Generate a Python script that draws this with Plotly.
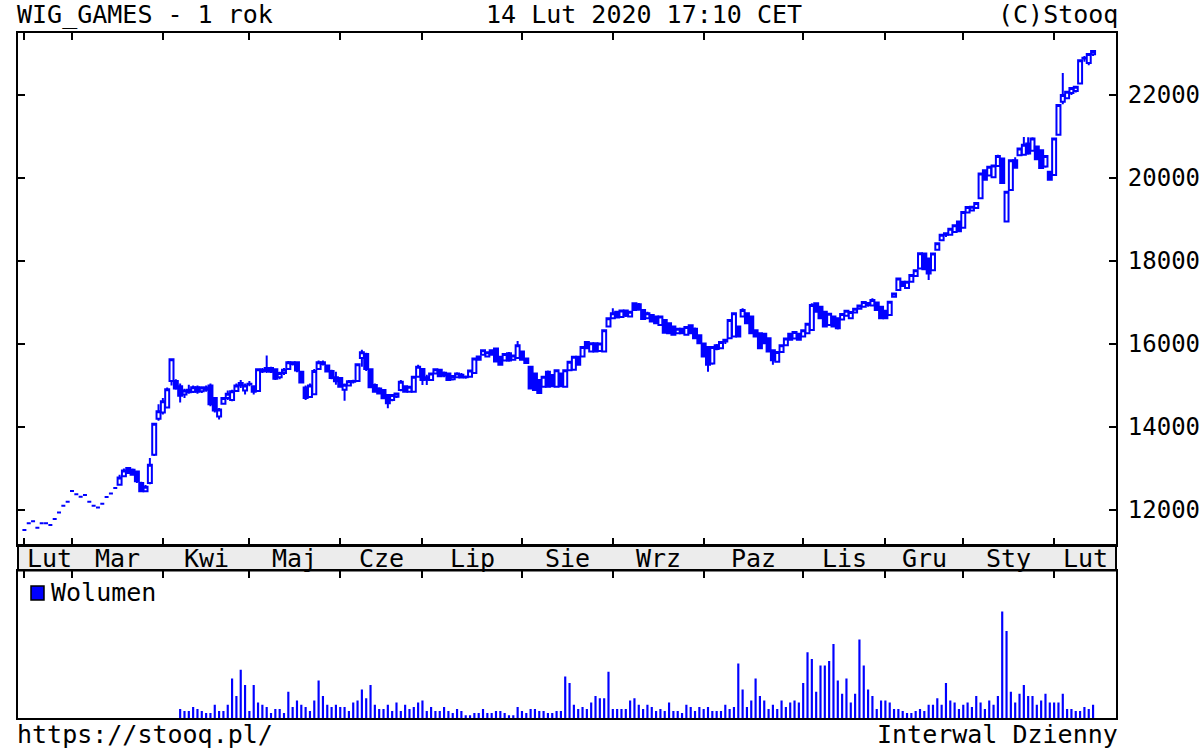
import plotly.graph_objects as go
import pandas as pd

# ---------------- data ----------------
holidays = ["2019-04-19", "2019-04-22", "2019-05-01", "2019-05-03", "2019-06-20",
            "2019-08-15", "2019-11-01", "2019-11-11", "2019-12-24", "2019-12-25",
            "2019-12-26", "2019-12-31", "2020-01-01", "2020-01-06"]
days = [d for d in pd.bdate_range("2019-02-14", "2020-02-14")
        if d.strftime("%Y-%m-%d") not in holidays]

month_names = ["Sty", "Lut", "Mar", "Kwi", "Maj", "Cze", "Lip", "Sie", "Wrz", "Paz", "Lis", "Gru"]

opens = [
    11520, 11680, 11730, 11570, 11680, 11680, 11640, 11780, 11940, 12100,
    12200, 12460, 12380, 12320, 12360, 12200, 12100, 12060, 12150, 12310,
    12400, 12530, 12610, 12810, 13010, 12970, 12930, 12650, 12450, 12650,
    13330, 14200, 14350, 14470, 15110, 15110, 14980, 14780, 14900, 14850,
    14960, 14860, 14950, 15000, 14700, 14250, 14560, 14700, 14650, 14870,
    15000, 14880, 15030, 14980, 14870, 15380, 15350, 15420, 15390, 15200,
    15300, 15400, 15520, 15560, 15330, 14950, 14720, 14790, 15400, 15560,
    15480, 15350, 15200, 15180, 14900, 15000, 15090, 15110, 15660, 15760,
    15390, 15010, 14930, 14890, 14770, 14650, 14730, 14890, 14980, 14850,
    14850, 15210, 15400, 15200, 15130, 15290, 15380, 15240, 15290, 15150,
    15200, 15260, 15200, 15210, 15300, 15700, 15740, 15700, 15850, 15890,
    15690, 15600, 15780, 15620, 15660, 15820, 15650, 15450, 15290, 15130,
    14970, 15330, 15250, 14970, 15290, 14970, 15370, 15380, 15690, 15700,
    16050, 15820, 16020, 15830, 15820, 16420, 16620, 16780, 16650, 16810,
    16660, 16980, 16960, 16820, 16620, 16700, 16660, 16460, 16580, 16500,
    16420, 16260, 16370, 16220, 16450, 16370, 16210, 16010, 15930, 15530,
    15970, 15900, 16060, 16140, 16180, 16420, 16660, 16740, 16660, 16330,
    16260, 16250, 16140, 15850, 15570, 15810, 15970, 16250, 16130, 16250,
    16180, 16260, 16340, 16980, 16900, 16780, 16460, 16660, 16620, 16590,
    16680, 16620, 16760, 16850, 16900, 16940, 16930, 17000, 16900, 16800,
    16700, 17140, 17300, 17500, 17350, 17500, 17640, 17820, 18180, 18060,
    17780, 18270, 18500, 18630, 18630, 18700, 18950, 18800, 19170, 19220,
    19280, 19510, 20190, 20060, 20020, 20290, 20470, 18950, 19710, 20430,
    20550, 20560, 20830, 20660, 20760, 20670, 20280, 20150, 20070, 21040,
    21840, 21920, 22050, 22100, 22280, 22880, 22770, 22980,
]
highs = [
    11520, 11680, 11730, 11570, 11680, 11680, 11640, 11780, 11940, 12100,
    12200, 12460, 12380, 12320, 12360, 12200, 12100, 12060, 12150, 12310,
    12400, 12530, 12850, 13000, 13030, 13000, 12950, 12680, 12600, 13250,
    14100, 14550, 14700, 14950, 15640, 15150, 15050, 14920, 15020, 15000,
    15000, 14980, 15000, 15050, 14720, 14460, 14720, 14880, 14900, 15050,
    15130, 15050, 15110, 15000, 15400, 15420, 15720, 15450, 15400, 15330,
    15420, 15590, 15580, 15570, 15350, 15000, 15050, 15400, 15600, 15600,
    15500, 15380, 15330, 15200, 15050, 15130, 15140, 15530, 15860, 15790,
    15400, 15050, 14960, 14900, 14790, 14780, 14830, 15130, 15000, 14990,
    15220, 15500, 15420, 15260, 15300, 15400, 15400, 15340, 15310, 15250,
    15320, 15300, 15240, 15380, 15660, 15720, 15870, 15820, 15870, 15910,
    15700, 15780, 15810, 15740, 16070, 15840, 15670, 15470, 15300, 15140,
    15220, 15360, 15260, 15380, 15300, 15380, 15580, 15700, 15710, 15950,
    16070, 16040, 16030, 16030, 16340, 16640, 16860, 16800, 16830, 16830,
    16790, 17000, 16990, 16840, 16780, 16710, 16680, 16680, 16600, 16520,
    16430, 16380, 16380, 16420, 16470, 16400, 16230, 16020, 15950, 15950,
    16000, 16060, 16110, 16600, 16760, 16440, 16860, 16760, 16680, 16350,
    16280, 16270, 16150, 15870, 15830, 15990, 16140, 16270, 16310, 16270,
    16340, 16500, 16980, 17000, 16910, 16790, 16740, 16670, 16640, 16740,
    16820, 16780, 16870, 16950, 17030, 17000, 17100, 17020, 16910, 16820,
    17030, 17240, 17600, 17520, 17520, 17680, 17800, 18200, 18200, 18080,
    18200, 18440, 18640, 18680, 18790, 18880, 18960, 19200, 19320, 19320,
    19410, 20120, 20200, 20280, 20320, 20560, 20480, 19680, 20440, 20500,
    20720, 20990, 20980, 20980, 20780, 20690, 20550, 20170, 20960, 21770,
    22530, 22100, 22190, 22220, 22850, 22940, 23000, 23080,
]
lows = [
    11520, 11680, 11730, 11570, 11680, 11680, 11640, 11780, 11940, 12100,
    12200, 12460, 12380, 12320, 12360, 12200, 12100, 12060, 12150, 12310,
    12400, 12530, 12600, 12800, 12880, 12830, 12650, 12430, 12440, 12620,
    13300, 14150, 14300, 14450, 15000, 14900, 14590, 14700, 14800, 14820,
    14800, 14820, 14850, 14500, 14350, 14180, 14540, 14650, 14620, 14850,
    14940, 14780, 14980, 14780, 14850, 15300, 15300, 15300, 15130, 15150,
    15250, 15380, 15480, 15320, 15050, 14650, 14700, 14780, 15380, 15480,
    15320, 15150, 15020, 14950, 14630, 14980, 15050, 15090, 15450, 15350,
    14950, 14830, 14790, 14680, 14450, 14620, 14700, 14860, 14840, 14830,
    14830, 15190, 15010, 15010, 15110, 15270, 15200, 15200, 15110, 15120,
    15180, 15170, 15160, 15190, 15280, 15600, 15720, 15680, 15720, 15560,
    15480, 15580, 15570, 15600, 15640, 15600, 15520, 14920, 14880, 14800,
    14950, 14960, 14960, 14950, 14960, 14960, 15360, 15370, 15490, 15690,
    15880, 15810, 15810, 15810, 15810, 16400, 16600, 16620, 16640, 16650,
    16650, 16810, 16800, 16580, 16600, 16530, 16490, 16450, 16260, 16250,
    16210, 16240, 16250, 16200, 16250, 16120, 16000, 15690, 15330, 15500,
    15850, 15880, 16000, 16130, 16170, 16160, 16640, 16480, 16250, 16170,
    15880, 16000, 15800, 15500, 15560, 15800, 15960, 16090, 16120, 16090,
    16170, 16250, 16330, 16760, 16600, 16400, 16450, 16400, 16350, 16580,
    16670, 16610, 16740, 16830, 16880, 16900, 16920, 16800, 16610, 16610,
    16690, 17130, 17290, 17380, 17340, 17480, 17620, 17810, 17780, 17540,
    17760, 18260, 18480, 18580, 18620, 18690, 18700, 18790, 19150, 19200,
    19270, 19500, 19950, 20040, 20010, 20280, 19870, 18940, 19700, 20230,
    20540, 20550, 20560, 20650, 20440, 20230, 20250, 19950, 20060, 21030,
    21780, 21900, 22000, 22060, 22270, 22800, 22720, 22940,
]
closes = [
    11520, 11680, 11730, 11570, 11680, 11680, 11640, 11780, 11940, 12100,
    12200, 12460, 12380, 12320, 12360, 12200, 12100, 12060, 12150, 12310,
    12400, 12530, 12780, 12950, 12890, 12850, 12690, 12450, 12560, 13090,
    14080, 14380, 14620, 14910, 15630, 14930, 14750, 14880, 14840, 14960,
    14850, 14950, 14900, 14550, 14400, 14420, 14700, 14800, 14860, 15000,
    15060, 15000, 15040, 14850, 15390, 15340, 15420, 15330, 15160, 15300,
    15380, 15560, 15560, 15360, 15070, 14700, 15000, 15350, 15560, 15520,
    15340, 15180, 15100, 14970, 15020, 15100, 15110, 15510, 15800, 15400,
    14960, 14850, 14810, 14690, 14570, 14770, 14810, 15090, 14850, 14970,
    15210, 15450, 15130, 15140, 15290, 15390, 15220, 15310, 15130, 15230,
    15290, 15190, 15210, 15360, 15650, 15620, 15850, 15800, 15740, 15580,
    15500, 15760, 15600, 15720, 15970, 15620, 15540, 14930, 14890, 14820,
    15210, 14970, 14980, 15370, 14980, 15370, 15570, 15690, 15500, 15930,
    15900, 16020, 15820, 16010, 16330, 16620, 16740, 16640, 16810, 16680,
    16780, 16820, 16830, 16600, 16740, 16540, 16500, 16660, 16270, 16260,
    16220, 16370, 16260, 16410, 16260, 16140, 16020, 15700, 15500, 15930,
    15880, 16050, 16100, 16580, 16740, 16180, 16820, 16500, 16260, 16180,
    15900, 16020, 15820, 15610, 15810, 15970, 16130, 16100, 16290, 16100,
    16330, 16490, 16940, 16780, 16620, 16420, 16730, 16420, 16380, 16720,
    16800, 16770, 16850, 16930, 17010, 16990, 17060, 16820, 16620, 16620,
    17020, 17220, 17580, 17400, 17500, 17660, 17780, 18190, 17800, 17700,
    18180, 18430, 18630, 18670, 18780, 18860, 18720, 19180, 19300, 19310,
    19400, 20110, 19960, 20270, 20300, 20530, 19880, 19670, 20430, 20250,
    20710, 20800, 20590, 20950, 20450, 20240, 20530, 19960, 20950, 21760,
    22000, 22080, 22170, 22200, 22840, 22900, 22990, 23060,
]
# volume (relative units), available from the 37th session onward
volume = [
    27, 21, 21, 33, 27, 21, 15, 15, 39, 21, 21, 39, 117, 65, 143, 98, 21, 98, 46, 39,
    33, 15, 27, 27, 15, 78, 33, 52, 39, 33, 21, 52, 111, 65, 39, 33, 39, 33,
    33, 21, 46, 52, 85, 59, 98, 39, 27, 27, 39, 21, 46, 21, 39, 27, 33, 46, 52, 21,
    33, 21, 21, 33, 21, 15, 27, 21, 8, 8, 15, 15, 27, 15, 15, 21, 21, 15, 8, 8,
    33, 21, 15, 27, 27, 21, 21, 15, 15, 21, 21, 123, 104, 39, 27, 33, 27, 46, 65, 59,
    59, 137, 27, 27, 27, 27, 52, 59, 39, 27, 39, 33, 21, 27, 21, 46, 21, 21, 15, 39,
    33, 21, 33, 27, 33, 21, 21, 21, 39, 27, 33, 162, 85, 33, 52, 117, 65, 52, 27, 39,
    27, 52, 33, 46, 52, 46, 104, 195, 175, 78, 156, 156, 169, 220, 111, 72, 117, 46, 72, 233,
    156, 85, 65, 27, 52, 52, 46, 27, 27, 21, 15, 15, 21, 27, 21, 39, 39, 59, 39, 104,
    52, 46, 27, 39, 46, 33, 65, 46, 27, 52, 39, 65, 316, 258, 78, 46, 72, 98, 65, 65,
    39, 52, 72, 46, 46, 46, 72, 27, 27, 21, 21, 33, 27, 39,
]
y_ticks = [12000, 14000, 16000, 18000, 20000, 22000]

title_left = "WIG_GAMES - 1 rok"
title_mid = "14 Lut 2020 17:10 CET"
title_right = "(C)Stooq"
foot_left = "https://stooq.pl/"
foot_right = "Interwal Dzienny"
legend_text = "Wolumen"

# ---------------- figure ----------------
BLUE = "#0000ff"
FONT = "DejaVu Sans Mono"
FS = 25
n = len(days)
idx = list(range(n))
vol_x = idx[n - len(volume):]

# month boundaries (first trading day of each month) and labels
bounds, labels = [], []
for i, d in enumerate(days):
    if i == 0 or d.month != days[i - 1].month:
        bounds.append(i)
        labels.append(month_names[d.month - 1])

X0, X1 = -1.48, 252.3
edges = [X0 + 1.9] + bounds[1:] + [X1]
label_pos = [(edges[k] + edges[k + 1]) / 2 for k in range(len(labels))]

fig = go.Figure()
fig.add_trace(go.Candlestick(
    x=idx, open=opens, high=highs, low=lows, close=closes,
    increasing=dict(line=dict(color=BLUE, width=2), fillcolor="white"),
    decreasing=dict(line=dict(color=BLUE, width=2), fillcolor=BLUE),
    whiskerwidth=0, xaxis="x", yaxis="y", hoverinfo="skip",
))
fig.add_trace(go.Bar(
    x=vol_x, y=volume, marker=dict(color=BLUE, line=dict(width=0)),
    width=0.5, xaxis="x2", yaxis="y2", hoverinfo="skip",
))

# paper geometry
L, R, T, B = 18, 84, 33, 32
W, H = 1200, 750
PH = H - T - B
def py(pix):
    return (H - B - pix) / PH
def px(pix):
    return (pix - L) / (W - L - R)

main_bottom = py(545)
vol_top = py(570.5)

axis_common = dict(showline=True, linewidth=2, linecolor="black",
                   ticks="inside", ticklen=7, tickwidth=2, tickcolor="black",
                   showgrid=False, zeroline=False, fixedrange=True, automargin=False)

fig.update_layout(
    width=W, height=H,
    margin=dict(l=L, r=R, t=T, b=B, pad=0, autoexpand=False),
    paper_bgcolor="white", plot_bgcolor="white",
    showlegend=False,
    boxgap=0.08, boxgroupgap=0,
    font=dict(family=FONT, size=FS, color="black"),
    xaxis=dict(domain=[0, 1], anchor="y", range=[X0, X1], tickvals=bounds, mirror="ticks",
               showticklabels=False, rangeslider=dict(visible=False), **axis_common),
    yaxis=dict(domain=[main_bottom, 1], anchor="x", side="right", mirror="ticks",
               range=[11156, 23495], tickvals=y_ticks, tickformat="d",
               tickfont=dict(family=FONT, size=24, color="black"),
               ticklabelstandoff=5, **axis_common),
    xaxis2=dict(domain=[0, 1], anchor="y2", matches="x", range=[X0, X1], tickvals=bounds,
                side="top", mirror=True, showticklabels=False, **axis_common),
    yaxis2=dict(domain=[0, vol_top], anchor="x2", range=[0, 438], showticklabels=False,
                showline=True, linewidth=2, linecolor="black", mirror=True, automargin=False,
                ticks="", showgrid=False, zeroline=False, fixedrange=True),
)

shapes = [
    dict(type="rect", xref="paper", yref="paper", x0=0, x1=1, y0=vol_top, y1=main_bottom,
         fillcolor="#ececec", line=dict(color="black", width=2), layer="below"),
    dict(type="rect", xref="paper", yref="paper", x0=px(31), x1=px(44), y0=py(600), y1=py(586),
         fillcolor=BLUE, line=dict(color="black", width=1.5)),
]
fig.update_layout(shapes=shapes)

ann = []
for lab, pos in zip(labels, label_pos):
    ann.append(dict(x=pos, y=py(558), xref="x", yref="paper", text=lab, showarrow=False,
                    xanchor="center", yanchor="middle", font=dict(family=FONT, size=FS)))
ann += [
    dict(x=px(15), y=py(15), xref="paper", yref="paper", text=title_left, showarrow=False,
         xanchor="left", yanchor="middle"),
    dict(x=px(643.5), y=py(15), xref="paper", yref="paper", text=title_mid, showarrow=False,
         xanchor="center", yanchor="middle"),
    dict(x=px(1120), y=py(15), xref="paper", yref="paper", text=title_right, showarrow=False,
         xanchor="right", yanchor="middle"),
    dict(x=px(15), y=py(734), xref="paper", yref="paper", text=foot_left, showarrow=False,
         xanchor="left", yanchor="middle"),
    dict(x=px(1120), y=py(734), xref="paper", yref="paper", text=foot_right, showarrow=False,
         xanchor="right", yanchor="middle"),
    dict(x=px(49), y=py(592), xref="paper", yref="paper", text=legend_text, showarrow=False,
         xanchor="left", yanchor="middle"),
]
fig.update_layout(annotations=ann)

fig.write_html("out.html", config={"displayModeBar": False},
               post_script="document.body.style.margin='0';")
